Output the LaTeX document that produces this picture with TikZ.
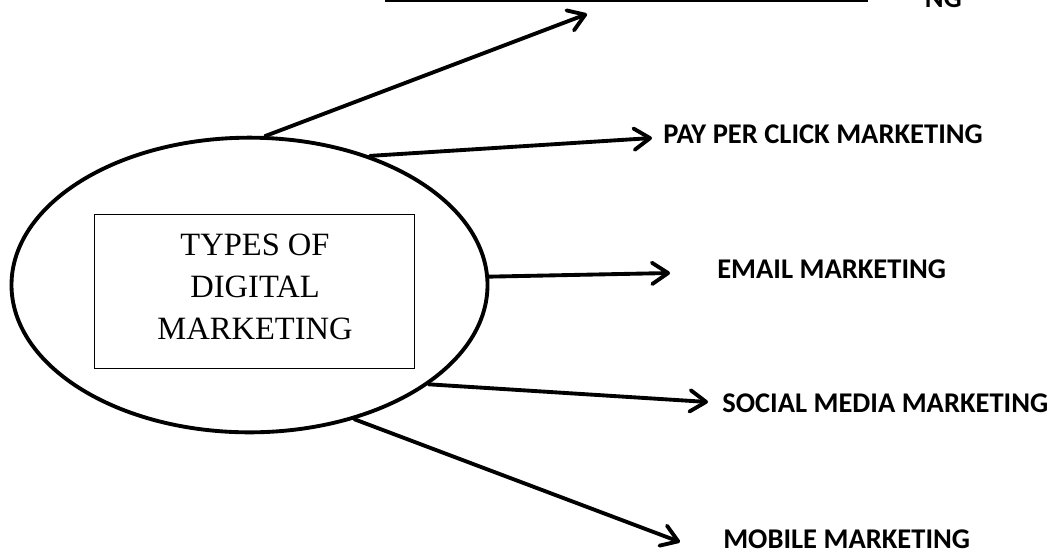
\documentclass[tikz,border=0pt]{standalone}
\usepackage{fontspec}
\setmainfont{Liberation Serif}
\newfontfamily\labfont{Carlito}
\usetikzlibrary{shapes.geometric,arrows.meta}
\tikzset{
  px/.style={x=0.75pt,y=-0.75pt},
  arr/.style={line width=2.9pt,line cap=round,-{Straight Barb[length=12pt,width=16pt,line cap=round,line join=round]}},
  lab/.style={anchor=base west,inner sep=0pt,font=\labfont\bfseries\fontsize{21.4}{25}\selectfont},
}
\begin{document}
\begin{tikzpicture}[px]
\useasboundingbox (0,0) rectangle (1052,551);
\clip (0,0) rectangle (1052,551);
\fill[white] (0,0) rectangle (1052,551);
% cut-off elements at top
\draw[line width=2.4pt] (385,0) -- (868,0);
\node[anchor=base east,inner sep=0pt,font=\labfont\bfseries\fontsize{21.4}{25}\selectfont] (topl) at (962,7) {NG};
% core
\node[ellipse,draw,line width=2.9pt,minimum width=357pt,minimum height=221pt,inner sep=0pt] (core) at (249.5,285) {};
\node[draw,line width=0.6pt,minimum width=240pt,minimum height=115.5pt,inner sep=0pt] (box) at (254,291) {};
\node[align=center,inner sep=0pt,font=\fontsize{24.4}{31.5}\selectfont] (title) at (255,286.5) {TYPES OF\\DIGITAL\\MARKETING};
% labels
\node[lab] (ppc) at (663,143) {PAY PER CLICK MARKETING};
\node[lab] (email) at (717,278) {EMAIL MARKETING};
\node[lab] (social) at (722,412) {SOCIAL MEDIA MARKETING};
\node[lab] (mobile) at (723,548) {MOBILE MARKETING};
% arrow tips
\coordinate (t0) at (587,14);
\coordinate (t1) at (652,138);
\coordinate (t2) at (670,273);
\coordinate (t3) at (708,402);
\coordinate (t4) at (680,542);
\draw[arr] (core.84.9) -- (t0);
\draw[arr] (core.47.7) -- (t1);
\draw[arr] (core.2.9) -- (t2);
\draw[arr] (core.-29) -- (t3);
\draw[arr] (core.-52.3) -- (t4);
\end{tikzpicture}
\end{document}
